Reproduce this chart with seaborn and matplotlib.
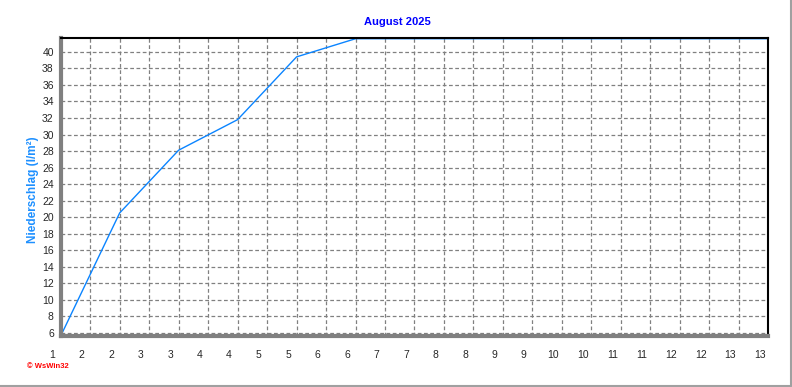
import numpy as np
import pandas as pd
import matplotlib
matplotlib.use("Agg")
import matplotlib.pyplot as plt
import seaborn as sns
from matplotlib.transforms import ScaledTranslation
from matplotlib.ticker import MultipleLocator

# ---- data ----
days = [1, 2, 3, 4, 5, 6, 7, 8, 9, 10, 11, 12, 13]
precip_sum = [5.6, 20.5, 28.1, 31.8, 39.4, 41.6, 41.6, 41.6, 41.6, 41.6, 41.6, 41.6, 41.6]
xtick_labels = ["1", "2", "2", "3", "3", "4", "4", "5", "5", "6", "6", "7", "7",
                "8", "8", "9", "9", "10", "10", "11", "11", "12", "12", "13", "13"]
ytick_values = list(range(6, 41, 2))
title = "August 2025"
ylabel = "Niederschlag (l/m²)"
watermark = "© WsWin32"

df = pd.DataFrame({"day": days, "value": precip_sum})

sns.set_style("white")
plt.rcParams["font.family"] = ["Liberation Sans", "DejaVu Sans"]

fig = plt.figure(figsize=(7.92, 3.87), dpi=100)
ax = fig.add_axes([60.7 / 792, 1 - 336 / 387, (768.3 - 60.7) / 792, (336 - 38.3) / 387])

sns.lineplot(data=df, x="day", y="value", ax=ax, color="#0A84FF", lw=1.0)

ax.set_xlim(1, 13)
ax.set_ylim(5.6, 41.65)

xticks = np.arange(1, 13.01, 0.5)
ax.set_xticks(xticks)
ax.set_xticklabels(xtick_labels)
ax.xaxis.set_minor_locator(MultipleLocator(0.5 / 6))
ax.set_yticks(ytick_values)
ax.yaxis.set_minor_locator(MultipleLocator(0.5))

ax.grid(True, which="major", color="#808080", linestyle=(0, (3, 2)), linewidth=0.9)
ax.set_axisbelow(True)

for side in ["left", "bottom"]:
    ax.spines[side].set_color("#808080")
    ax.spines[side].set_linewidth(3)
for side in ["top", "right"]:
    ax.spines[side].set_color("black")
    ax.spines[side].set_linewidth(1.5)

ax.tick_params(axis="x", which="major", direction="out", length=4, width=1,
               color="#808080", labelsize=7.5, pad=6)
ax.tick_params(axis="x", which="minor", direction="out", length=2.5, width=0.8,
               color="#808080")
ax.tick_params(axis="y", which="major", direction="out", length=3, width=1,
               color="#808080", labelsize=7.5, pad=2)
ax.tick_params(axis="y", which="minor", direction="out", length=2, width=0.8,
               color="#808080")

off = ScaledTranslation(-0.085, 0, fig.dpi_scale_trans)
for lab in ax.get_xticklabels():
    lab.set_transform(lab.get_transform() + off)

ax.set_xlabel("")
ax.set_ylabel("")

fig.text(397 / 792, 1 - 22 / 387, title, ha="center", va="center",
         color="#0000FF", fontsize=8, fontweight="bold")
fig.text(33 / 792, 1 - 190 / 387, ylabel, ha="center", va="center", rotation=90,
         color="#1E90FF", fontsize=8.5, fontweight="bold")
fig.text(27 / 792, 1 - 367 / 387, watermark, ha="left", va="center",
         color="#FF0000", fontsize=5.5, fontweight="bold")

# outer frame (right and bottom)
fig.add_artist(plt.Line2D([1 - 1 / 792, 1 - 1 / 792], [1 / 387, 1], transform=fig.transFigure,
                          color="#A0A0A0", lw=1.5))
fig.add_artist(plt.Line2D([0, 1 - 1 / 792], [1 / 387, 1 / 387], transform=fig.transFigure,
                          color="#A0A0A0", lw=1.5))

fig.savefig("out.png", dpi=100, facecolor="white")
